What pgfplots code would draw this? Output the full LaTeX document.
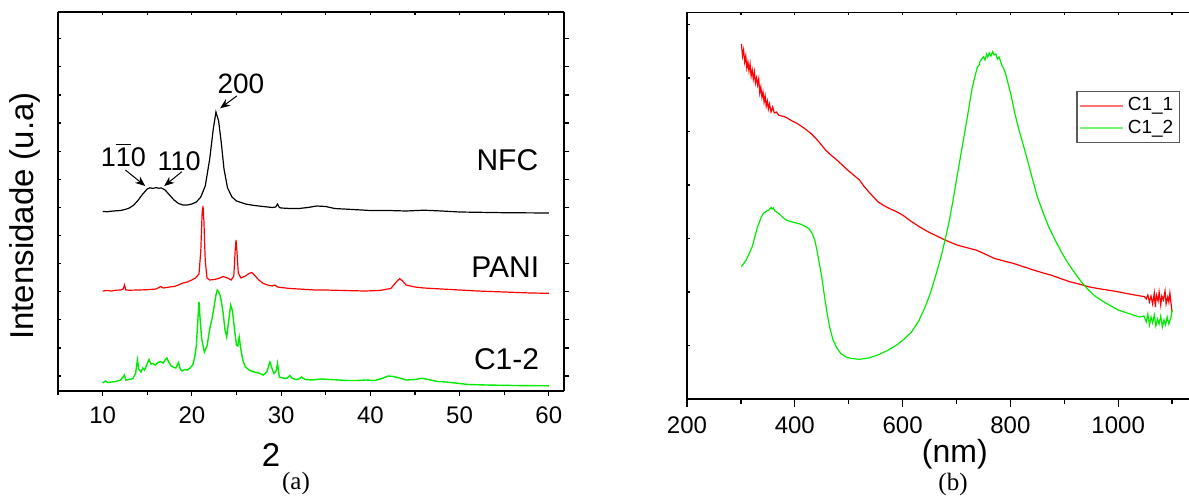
\documentclass[border=0pt]{standalone}
\usepackage{fontspec}
\setmainfont{Liberation Sans}
\newfontfamily\capfont{Liberation Serif}
\usepackage{pgfplots}
\pgfplotsset{compat=1.18}
\usetikzlibrary{arrows.meta}
\definecolor{xred}{RGB}{255,0,0}
\definecolor{xgreen}{RGB}{0,235,0}
\newcommand\fs[1]{\fontsize{#1}{#1}\selectfont}

\pgfplotsset{
  panel/.style={
    scale only axis, clip=false,
    axis line style={line width=0.8pt},
    every tick/.style={black, line width=0.6pt},
    /pgf/number format/assume math mode=true,
    /pgf/number format/1000 sep={},
    ticklabel style={font=\fs{12}},
  },
}

\begin{document}
\begin{tikzpicture}
\useasboundingbox (0,0) rectangle (594.5pt,247.5pt);

% ---------- (a) XRD ----------
\begin{axis}[panel, at={(29pt,52pt)}, anchor=south west,
    width=253pt, height=189.35pt,
    xmin=5, xmax=61.7, ymin=0, ymax=378.7,
    axis x line*=top, axis y line*=left, tick align=inside,
    xtick={5,10,...,60}, xticklabels={},
    ytick={15,43.1,71.2,99.3,127.4,155.5,183.6,211.7,239.8,267.9,296,324.1,352.2},
    yticklabels={}, major tick length=1.3pt]
\end{axis}
\begin{axis}[panel, at={(29pt,52pt)}, anchor=south west,
    width=253pt, height=189.35pt,
    xmin=5, xmax=61.7, ymin=0, ymax=378.7,
    axis x line*=bottom, axis y line*=right, tick align=outside,
    xtick={10,20,...,60}, minor xtick={5,15,...,55},
    major tick length=2.7pt, minor tick length=2.1pt,
    xticklabel style={yshift=-1.5pt},
    ytick={15,43.1,71.2,99.3,127.4,155.5,183.6,211.7,239.8,267.9,296,324.1,352.2},
    yticklabels={},
    xlabel={2}, xlabel style={font=\fs{16.5}, at={(axis description cs:0.421,-0.169)}, anchor=center},
    ylabel={Intensidade (u.a)}, ylabel style={font=\fs{16.5}, at={(axis description cs:-0.0652,0.462)}, anchor=center, rotate=0},
  ]
  % NFC
  \addplot[black, line width=0.6pt] coordinates {
    (10,179.5) (10.5,179.3) (11,179.8) (11.5,180.2) (12,180.5) (12.5,181.5) (13,183)
    (13.5,186) (14,191) (14.5,197) (15,202) (15.3,203.2) (15.6,202.6) (16,203.3)
    (16.3,202.8) (16.6,203) (17,201) (17.5,196) (18,191) (18.5,187.5) (19,186)
    (19.5,186) (20,187) (20.5,189) (21,194) (21.5,205) (22,232) (22.4,262) (22.7,279)
    (23,270) (23.3,248) (23.6,222) (24,203) (24.5,194) (25,190) (26,187) (27,185.5)
    (28,184.5) (29,183.5) (29.4,184) (29.6,187) (29.8,183.5) (30,183) (31,182.5)
    (32,182.5) (33,183.5) (34,185) (35,184.5) (36,182.5) (38,181.5) (40,180.5)
    (42,180.5) (44,180) (46,180.8) (48,180) (50,179) (55,178.3) (60,178)
  };
  % PANI
  \addplot[xred, line width=0.6pt] coordinates {
    (10,100) (10.5,100.5) (11,100) (11.5,100.8) (12,101) (12.3,102) (12.45,106)
    (12.6,101) (13,100.8) (14,101) (15,101.3) (16,102) (16.5,104.5) (16.8,103)
    (17.5,104) (18,104.5) (18.5,106) (19,108) (19.5,109) (20,111) (20.4,113)
    (20.8,117) (21,140) (21.15,178) (21.25,185) (21.35,170) (21.5,130) (21.7,113)
    (22,111) (22.5,111.5) (23,112.5) (23.5,114.5) (24,113) (24.4,111) (24.7,115)
    (24.85,140) (24.95,151) (25.05,140) (25.2,118) (25.5,113) (26,115) (26.4,117.5)
    (26.7,118.5) (27,116) (27.5,111) (28,107.5) (28.5,106) (29,105) (29.3,106)
    (29.6,104) (30,103.5) (31,102.5) (32,102) (33.8,101) (35,101) (37,100.5)
    (39.4,100) (41,100.5) (42.3,102.5) (43,110) (43.3,112.3) (43.6,110) (44,106)
    (45,104) (46,103) (48,102) (50,101) (52,100) (55,99) (58,98) (60,97.7)
  };
  % C1-2
  \addplot[xgreen, line width=0.7pt] coordinates {
    (10,8) (10.3,10) (10.6,8.5) (11,9) (11.5,9.5) (12,11) (12.3,14) (12.45,16)
    (12.6,11) (13,11.5) (13.4,12.5) (13.7,18) (13.9,31) (14.05,22) (14.3,19)
    (14.5,23) (14.7,21) (14.9,25) (15.2,31.5) (15.4,27) (15.6,27.5) (15.9,26)
    (16.2,28.5) (16.5,29.5) (16.8,28) (17,31) (17.2,33) (17.4,29) (17.7,25)
    (17.9,24) (18.2,23) (18.5,28.5) (18.7,22) (18.9,20) (19.2,21.5) (19.5,21)
    (19.8,23) (20.1,26) (20.3,33) (20.5,45) (20.7,75) (20.8,89) (20.9,75)
    (21.1,52) (21.4,39) (21.7,45) (22,62) (22.3,74) (22.5,85) (22.7,96)
    (22.85,101) (23,99) (23.15,96) (23.3,90) (23.5,78) (23.7,62) (23.9,54)
    (24.1,68) (24.35,86) (24.55,80) (24.8,60) (25,46) (25.15,45) (25.3,54)
    (25.45,44) (25.7,31) (26,24) (26.5,20.5) (27,19) (27.5,18) (28,16) (28.4,19)
    (28.75,29) (29,22) (29.2,17.5) (29.45,20) (29.6,27.5) (29.8,14) (30.2,13)
    (30.6,12.5) (31,15.5) (31.2,13) (31.6,11.5) (32,12) (32.3,14) (32.7,11.5)
    (33.5,11) (34.5,12) (35.5,11.5) (36.5,11) (37.5,10.5) (38.5,10.5) (39.5,11)
    (40.5,10.5) (41.3,12.5) (42,15) (42.6,14.5) (43.3,13) (44,11) (45,11.5)
    (45.8,12.8) (46.5,11.5) (47.5,9.5) (48.5,9) (49.5,8) (51,6.5) (53,6)
    (56,5.5) (60,5.2)
  };
  \node[anchor=east, font=\fs{15}] at (axis cs:59.6,231) {NFC};
  \node[anchor=east, font=\fs{15}] at (axis cs:59.7,124) {PANI};
  \node[anchor=east, font=\fs{15}] at (axis cs:59.7,32) {C1-2};
  \node[font=\fs{14}] at (axis cs:25.5,307) {200};
  \node[font=\fs{13.5}] at (axis cs:12.33,236) {1$\overline{\mbox{1}}$0};
  \node[font=\fs{13.5}] at (axis cs:18.58,230) {110};
  \draw[-{Stealth[length=5pt,width=4pt]}, line width=0.5pt]
    (axis cs:25.03,295) -- (axis cs:23.17,282.7);
  \draw[-{Stealth[length=5pt,width=4pt]}, line width=0.5pt]
    (axis cs:12.55,221) -- (axis cs:14.78,205);
  \draw[-{Stealth[length=5pt,width=4pt]}, line width=0.5pt]
    (axis cs:18.88,219.3) -- (axis cs:16.9,205);
\end{axis}

% ---------- (b) UV-Vis ----------
\begin{axis}[panel, at={(343.5pt,48pt)}, anchor=south west,
    width=256pt, height=193.35pt,
    xmin=200, xmax=1150, ymin=0, ymax=386.7,
    axis x line*=top, axis y line*=left, tick align=inside,
    xtick={200,300,...,1100}, xticklabels={},
    ytick={0,53.5,107,160.5,214,267.5,321,374.5}, yticklabels={},
    major tick length=1.5pt]
\end{axis}
\begin{axis}[panel, at={(343.5pt,48pt)}, anchor=south west,
    width=256pt, height=193.35pt,
    xmin=200, xmax=1150, ymin=0, ymax=386.7,
    axis x line*=bottom, axis y line=none, tick align=outside,
    xtick={200,400,...,1000}, minor xtick={300,500,...,1100},
    major tick length=4pt, minor tick length=2.7pt,
    xticklabel style={yshift=-1.5pt},
    xlabel={(nm)}, xlabel style={font=\fs{16}, at={(axis description cs:0.523,-0.142)}, anchor=center},
    ylabel={Absorbância (u.a)}, ylabel style={font=\fs{16.5}, at={(axis description cs:-0.0438,0.478)}, anchor=center, rotate=0},
    legend style={at={(0.760,0.7965)}, anchor=north west, draw=black!65,
      line width=0.7pt, font=\fs{9.5}, inner sep=1pt, row sep=-1pt},
    legend cell align=left,
    legend image code/.code={\draw[#1, opacity=0.55, line width=1pt] (0pt,0pt) -- (21.5pt,0pt);},
  ]
  \addplot[xred, line width=0.6pt] coordinates {
    (301,355) (303,343) (305,349) (307,337) (309,343) (311,331) (313,337) (315,328)
    (317,335) (319,323) (321,329) (323,320) (325,327) (327,316) (329,321) (331,314)
    (333,320) (335,306) (337,312) (339,302) (341,307) (343,297) (345,303) (347,293)
    (349,298) (351,290) (353,295) (356,287) (359,292) (362,286) (366,287) (370,284)
    (375,283) (380,282.5) (387,280.7) (395,278) (404,275.7) (413,272.5) (422,269)
    (431,265) (439,260.7) (448,255) (457,249) (467,244) (478,239) (488,234) (498,229)
    (509,224) (520,219) (528,213) (537,207.3) (546,202) (554,197.3) (565,193.5)
    (575,190.7) (588,187.5) (600,184) (615,178) (631,172.3) (648,167) (666,162.3)
    (683,158) (701,154) (718,151.5) (736,149) (753,145) (770,140.7) (788,138)
    (805,135.7) (826,132) (847,128.3) (861,126) (875,124) (893,120.5) (910,117.3)
    (927,115) (945,112.3) (962,110.5) (980,109) (997,107.5) (1014,105.7) (1031,104)
    (1049,102.3) (1052,100) (1055,104) (1058,97) (1061,103) (1064,95) (1067,106)
    (1069,92) (1071,104) (1074,98) (1076,107) (1079,94) (1081,103) (1084,99)
    (1087,108) (1089,95) (1092,102) (1094,97) (1096,106) (1098,96) (1100,87)
  };
  \addlegendentry{C1\_1}
  \addplot[xgreen, line width=0.6pt] coordinates {
    (301,132.3) (310,139) (321,152.3) (331,172.3) (338,182) (342,185.7) (348,188)
    (352,189) (356,191.5) (358,190) (360,191) (363,188) (366,187) (370,185.7)
    (377,182) (384,179) (392,177.5) (401,176.3) (410,175) (418,173) (426,170.5)
    (432,165.7) (437,159) (441,149) (445,137) (450,122.3) (455,103) (460,85.7)
    (465,71) (471,59) (478,51) (485,45.7) (495,42) (505,40.5) (520,39.7) (537,41)
    (554,44) (572,48.5) (589,54) (603,60) (617,67.3) (630,78) (642,92.3) (651,105)
    (659,119) (666,132) (673,145.7) (680,162) (687,179) (694,200) (701,222.3)
    (708,244) (715,265.7) (722,288) (729,310.7) (734,322) (739,332.3) (742,334)
    (744,338) (747,340) (750,342.3) (753,339) (756,345) (758,342) (761,346)
    (764,343) (767,347.3) (770,344) (773,345) (776,340) (779,342) (781,339)
    (784,334) (787,331) (791,325.7) (796,315) (802,302.3) (808,286) (816,269)
    (823,256) (830,242.3) (840,222) (850,202.3) (861,186) (871,172.3) (884,158)
    (896,145.7) (908,135) (920,125.7) (932,117) (945,109) (958,102.5) (973,97.3)
    (987,93) (1000,89) (1014,86.5) (1028,84) (1040,82) (1048,83) (1052,77)
    (1055,85) (1058,74) (1061,82) (1064,76) (1067,84) (1070,73) (1073,80)
    (1076,75) (1079,83) (1082,72) (1085,79) (1088,74) (1091,82) (1094,75)
    (1097,80) (1099,84) (1100,89)
  };
  \addlegendentry{C1\_2}
\end{axis}

\node[font=\capfont\fs{12.5}] at (148pt,6pt) {(a)};
\node[font=\capfont\fs{12.5}] at (476.5pt,5.5pt) {(b)};
\end{tikzpicture}
\end{document}
